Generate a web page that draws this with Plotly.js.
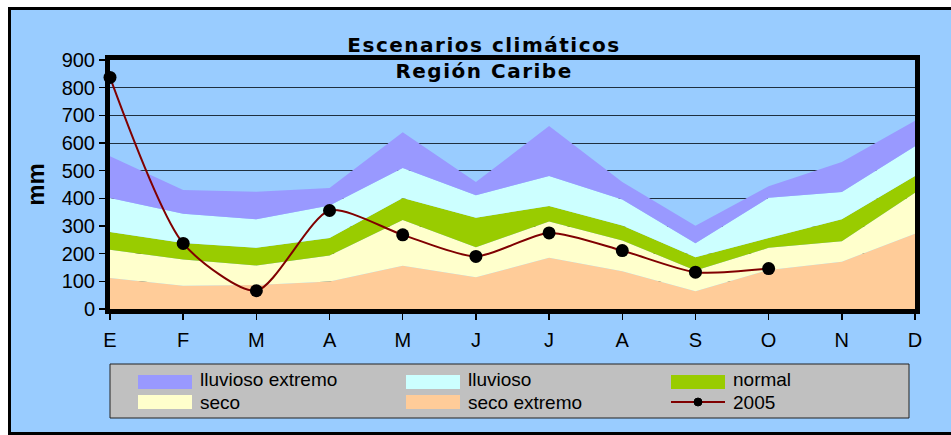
<!DOCTYPE html>
<html>
<head>
<meta charset="utf-8">
<script src="https://cdn.plot.ly/plotly-3.0.1.min.js"></script>
<style>
html,body{margin:0;padding:0;background:#ffffff;width:951px;height:435px;overflow:hidden}
#frame{position:absolute;left:8px;top:7px;width:1000px;height:428px;box-sizing:border-box;border:3px solid #000;background:#99CCFF}
#chart{position:absolute;left:0;top:0;width:951px;height:435px}
.gtitle{letter-spacing:1.5px}
</style>
</head>
<body>
<div id="frame"></div>
<div id="chart"></div>
<script>
// ---- data (upper limit of each scenario band, mm) ----
const months = ['E','F','M','A','M','J','J','A','S','O','N','D'];
const secoExtremo     = [112, 84, 87, 99, 156, 115, 185, 136, 64, 141, 171, 272];
const seco            = [214, 179, 157, 193, 322, 223, 316, 248, 139, 221, 245, 420];
const normal          = [278, 239, 221, 257, 401, 330, 372, 302, 187, 257, 324, 481];
const lluvioso        = [401, 344, 324, 374, 510, 411, 481, 396, 238, 402, 423, 588];
const lluviosoExtremo = [552, 430, 424, 437, 639, 459, 661, 459, 301, 444, 531, 680];
const obs2005         = [837, 237, 66, 356, 268, 190, 275, 211, 133, 146, null, null];
const yTickValues = [0, 100, 200, 300, 400, 500, 600, 700, 800, 900];
const titleText = 'Escenarios climáticos<br>Región Caribe';
const yTitle = 'mm';

// ---- styles ----
const colors = {
  lluviosoExtremo: '#9999FF',
  lluvioso: '#CCFFFF',
  normal: '#99CC00',
  seco: '#FFFFCC',
  secoExtremo: '#FFCC99',
  line2005: '#800000'
};

const xIdx = months.map((m, i) => i);

function area(name, y, color, fill) {
  return {
    type: 'scatter', mode: 'none', name: name, x: xIdx, y: y,
    fill: fill, fillcolor: color, hoverinfo: 'name+y'
  };
}

const traces = [
  area('seco extremo', secoExtremo, colors.secoExtremo, 'tozeroy'),
  area('seco', seco, colors.seco, 'tonexty'),
  area('normal', normal, colors.normal, 'tonexty'),
  area('lluvioso', lluvioso, colors.lluvioso, 'tonexty'),
  area('lluvioso extremo', lluviosoExtremo, colors.lluviosoExtremo, 'tonexty'),
  {
    type: 'scatter', mode: 'lines+markers', name: '2005', x: xIdx, y: obs2005,
    line: {color: colors.line2005, width: 2, shape: 'spline', smoothing: 0.7},
    marker: {color: '#000000', size: 13},
    cliponaxis: false, connectgaps: false
  }
];

// ---- custom legend (Excel style, 3 columns x 2 rows) ----
const M = {l: 110, r: 36, t: 60, b: 126};
const W = 951, H = 435;
const pw = W - M.l - M.r, ph = H - M.t - M.b;
const px = x => (x - M.l) / pw;
const py = y => (H - M.b - y) / ph;

const legendItems = [
  {name: 'lluvioso extremo', color: colors.lluviosoExtremo, type: 'fill'},
  {name: 'lluvioso', color: colors.lluvioso, type: 'fill'},
  {name: 'normal', color: colors.normal, type: 'fill'},
  {name: 'seco', color: colors.seco, type: 'fill'},
  {name: 'seco extremo', color: colors.secoExtremo, type: 'fill'},
  {name: '2005', color: colors.line2005, type: 'line'}
];
const colX = [138, 406, 671];
const rowY = [382, 402];
const textRowY = [379.5, 402];
const shapes = [{
  type: 'rect', xref: 'paper', yref: 'paper',
  x0: px(110), x1: px(909), y0: py(418), y1: py(364),
  fillcolor: '#C0C0C0', line: {color: '#222', width: 1}, layer: 'above'
}];
const annotations = [];
legendItems.forEach((it, i) => {
  const r = Math.floor(i / 3);
  const cx = colX[i % 3], cy = rowY[r];
  if (it.type === 'fill') {
    shapes.push({type: 'rect', xref: 'paper', yref: 'paper',
      x0: px(cx), x1: px(cx + 54), y0: py(cy + 7), y1: py(cy - 7),
      fillcolor: it.color, line: {width: 0}, layer: 'above'});
  } else {
    shapes.push({type: 'line', xref: 'paper', yref: 'paper',
      x0: px(cx), x1: px(cx + 54), y0: py(cy), y1: py(cy),
      line: {color: it.color, width: 2}, layer: 'above'});
    shapes.push({type: 'circle', xref: 'paper', yref: 'paper',
      x0: px(cx + 23), x1: px(cx + 31), y0: py(cy + 4), y1: py(cy - 4),
      fillcolor: '#000', line: {color: '#000', width: 1}, layer: 'above'});
  }
  annotations.push({xref: 'paper', yref: 'paper', x: px(cx + 60), y: py(textRowY[r]),
    xanchor: 'left', yanchor: 'middle', showarrow: false, text: it.name,
    font: {family: 'Liberation Sans, Arial, sans-serif', size: 19, color: '#000'}});
});

const layout = {
  width: W, height: H,
  margin: {l: M.l, r: M.r, t: M.t, b: M.b, pad: 0},
  paper_bgcolor: 'rgba(0,0,0,0)', plot_bgcolor: 'rgba(0,0,0,0)',
  showlegend: false,
  font: {family: 'Liberation Sans, Arial, sans-serif', color: '#000', size: 20},
  title: {
    text: titleText,
    font: {family: 'DejaVu Sans, Verdana, sans-serif', size: 20, weight: 'bold', color: '#000'},
    x: 0.509, xref: 'container', xanchor: 'center',
    y: 0.8815, yref: 'container', yanchor: 'top'
  },
  xaxis: {
    range: [0, 11], tickmode: 'array', tickvals: xIdx, ticktext: months,
    ticks: 'outside', ticklen: 6, tickwidth: 1.5, tickcolor: '#000',
    showline: true, linewidth: 5, linecolor: '#000', mirror: true,
    showgrid: false, zeroline: false, layer: 'below traces',
    ticklabelstandoff: 3, fixedrange: true
  },
  yaxis: {
    range: [0, 900], tickmode: 'array', tickvals: yTickValues,
    ticks: 'outside', ticklen: 6, tickwidth: 1.5, tickcolor: '#000',
    showline: true, linewidth: 5, linecolor: '#000', mirror: true,
    showgrid: true, gridcolor: '#1f2f3f', gridwidth: 1,
    zeroline: false, layer: 'below traces', fixedrange: true,
    title: {text: yTitle, font: {family: 'Liberation Sans, Arial, sans-serif', size: 24, weight: 'bold', color: '#000'}, standoff: 12}
  },
  shapes: shapes,
  annotations: annotations
};

Plotly.newPlot('chart', traces, layout, {displayModeBar: false, staticPlot: true});
</script>
</body>
</html>
